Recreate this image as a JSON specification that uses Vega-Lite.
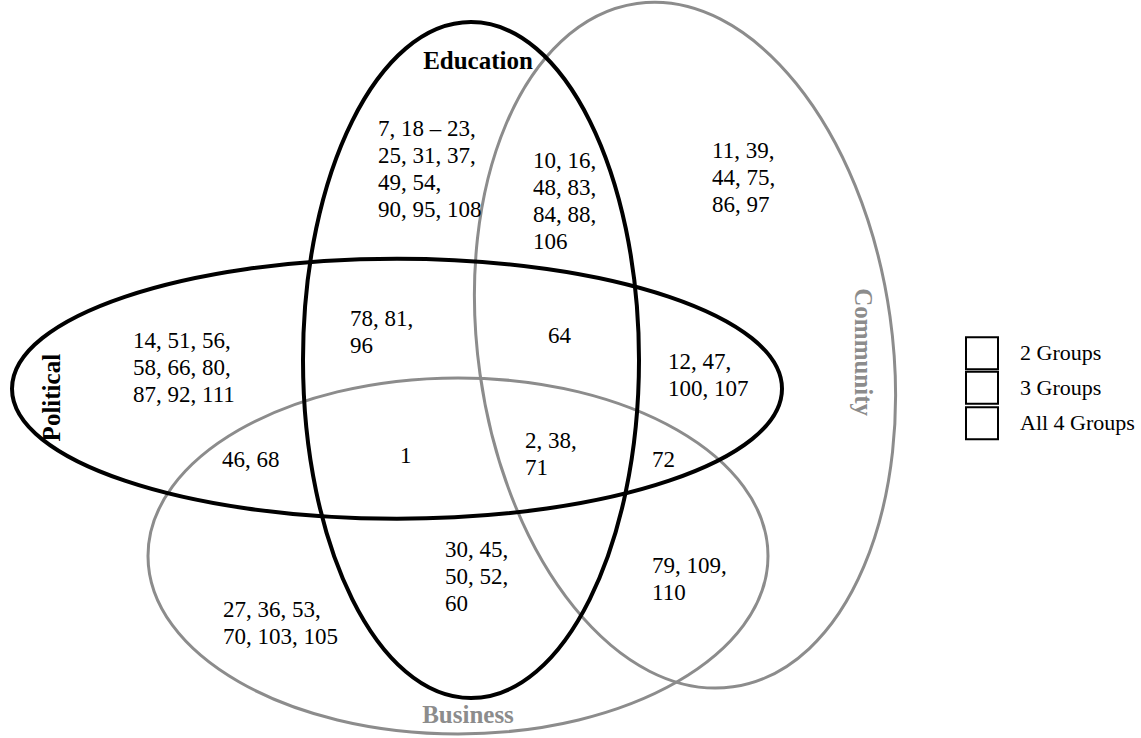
{
  "$schema": "https://vega.github.io/schema/vega-lite/v6.json",
  "width": 1141,
  "height": 738,
  "autosize": {"type": "fit", "contains": "padding"},
  "padding": 0,
  "background": "white",
  "config": {"view": {"stroke": null}},
  "datasets": {
    "sets": [
      {"name": "Education", "x": 471, "y": 364},
      {"name": "Political", "x": 397, "y": 393},
      {"name": "Community", "x": 685, "y": 349},
      {"name": "Business", "x": 458, "y": 562}
    ],
    "setLabels": [
      {"name": "Education", "x": 478, "y": 62},
      {"name": "Political", "x": 52, "y": 402},
      {"name": "Community", "x": 863, "y": 356},
      {"name": "Business", "x": 468, "y": 723}
    ],
    "regions": [
      {"region": "Education", "x": 378, "y": 137, "ids": "7, 18 – 23,\n25, 31, 37,\n49, 54,\n90, 95, 108"},
      {"region": "Education + Community", "x": 533, "y": 170, "ids": "10, 16,\n48, 83,\n84, 88,\n106"},
      {"region": "Community", "x": 712, "y": 160, "ids": "11, 39,\n44, 75,\n86, 97"},
      {"region": "Political", "x": 133, "y": 352, "ids": "14, 51, 56,\n58, 66, 80,\n87, 92, 111"},
      {"region": "Political + Education", "x": 350, "y": 330, "ids": "78, 81,\n96"},
      {"region": "Political + Education + Community", "x": 548, "y": 347, "ids": "64"},
      {"region": "Political + Community", "x": 668, "y": 373, "ids": "12, 47,\n100, 107"},
      {"region": "Political + Business", "x": 222, "y": 472, "ids": "46, 68"},
      {"region": "Political + Education + Business", "x": 400, "y": 468, "ids": "1"},
      {"region": "All four", "x": 525, "y": 453, "ids": "2, 38,\n71"},
      {"region": "Political + Community + Business", "x": 652, "y": 472, "ids": "72"},
      {"region": "Education + Business", "x": 445, "y": 563, "ids": "30, 45,\n50, 52,\n60"},
      {"region": "Community + Business", "x": 652, "y": 579, "ids": "79, 109,\n110"},
      {"region": "Business", "x": 223, "y": 624, "ids": "27, 36, 53,\n70, 103, 105"}
    ],
    "legend": [
      {"label": "2 Groups", "x": 982, "y": 357},
      {"label": "3 Groups", "x": 982, "y": 392},
      {"label": "All 4 Groups", "x": 982, "y": 428}
    ]
  },
  "encoding": {
    "x": {"field": "x", "type": "quantitative", "scale": {"domain": [0, 1141], "nice": false, "zero": false}, "axis": null},
    "y": {"field": "y", "type": "quantitative", "scale": {"domain": [0, 738], "nice": false, "zero": false, "reverse": true}, "axis": null}
  },
  "layer": [
    {
      "data": {"name": "sets"},
      "transform": [{"filter": "datum.name === 'Community'"}],
      "mark": {"type": "point", "filled": false, "size": 4, "angle": -8, "stroke": "#8c8c8c", "strokeWidth": 3, "opacity": 1,
        "shape": "M -207 0 A 207 345 0 1 0 207 0 A 207 345 0 1 0 -207 0 Z"}
    },
    {
      "data": {"name": "sets"},
      "transform": [{"filter": "datum.name === 'Business'"}],
      "mark": {"type": "point", "filled": false, "size": 4, "stroke": "#8c8c8c", "strokeWidth": 3, "opacity": 1,
        "shape": "M -310 0 A 310 178 0 1 0 310 0 A 310 178 0 1 0 -310 0 Z"}
    },
    {
      "data": {"name": "sets"},
      "transform": [{"filter": "datum.name === 'Education'"}],
      "mark": {"type": "point", "filled": false, "size": 4, "stroke": "#000000", "strokeWidth": 4, "opacity": 1,
        "shape": "M -168 0 A 168 338 0 1 0 168 0 A 168 338 0 1 0 -168 0 Z"}
    },
    {
      "data": {"name": "sets"},
      "transform": [{"filter": "datum.name === 'Political'"}],
      "mark": {"type": "point", "filled": false, "size": 4, "stroke": "#000000", "strokeWidth": 4, "opacity": 1,
        "shape": "M -385 0 A 385 130 0 1 0 385 0 A 385 130 0 1 0 -385 0 Z"}
    },
    {
      "data": {"name": "regions"},
      "mark": {"type": "text", "align": "left", "baseline": "alphabetic", "font": "Liberation Serif", "fontSize": 23, "lineHeight": 27, "lineBreak": "\n", "color": "#000000"},
      "encoding": {"text": {"field": "ids", "type": "nominal"}}
    },
    {
      "data": {"name": "setLabels"},
      "transform": [{"filter": "datum.name === 'Education'"}],
      "mark": {"type": "text", "align": "center", "baseline": "middle", "font": "Liberation Serif", "fontWeight": "bold", "fontSize": 25, "color": "#000000"},
      "encoding": {"text": {"field": "name", "type": "nominal"}}
    },
    {
      "data": {"name": "setLabels"},
      "transform": [{"filter": "datum.name === 'Political'"}],
      "mark": {"type": "text", "align": "center", "baseline": "middle", "angle": 270, "font": "Liberation Serif", "fontWeight": "bold", "fontSize": 25, "color": "#000000"},
      "encoding": {"text": {"field": "name", "type": "nominal"}}
    },
    {
      "data": {"name": "setLabels"},
      "transform": [{"filter": "datum.name === 'Community'"}],
      "mark": {"type": "text", "align": "center", "baseline": "middle", "angle": 90, "font": "Liberation Serif", "fontWeight": "bold", "fontSize": 25, "color": "#8c8c8c"},
      "encoding": {"text": {"field": "name", "type": "nominal"}}
    },
    {
      "data": {"name": "setLabels"},
      "transform": [{"filter": "datum.name === 'Business'"}],
      "mark": {"type": "text", "align": "center", "baseline": "middle", "font": "Liberation Serif", "fontWeight": "bold", "fontSize": 25, "color": "#8c8c8c"},
      "encoding": {"text": {"field": "name", "type": "nominal"}}
    },
    {
      "data": {"name": "legend"},
      "mark": {"type": "point", "shape": "square", "size": 1024, "filled": true, "fill": "#ffffff", "stroke": "#000000", "strokeWidth": 2, "opacity": 1}
    },
    {
      "data": {"name": "legend"},
      "mark": {"type": "text", "align": "left", "baseline": "middle", "dx": 38, "font": "Liberation Serif", "fontSize": 22, "color": "#000000"},
      "encoding": {"text": {"field": "label", "type": "nominal"}}
    }
  ]
}
